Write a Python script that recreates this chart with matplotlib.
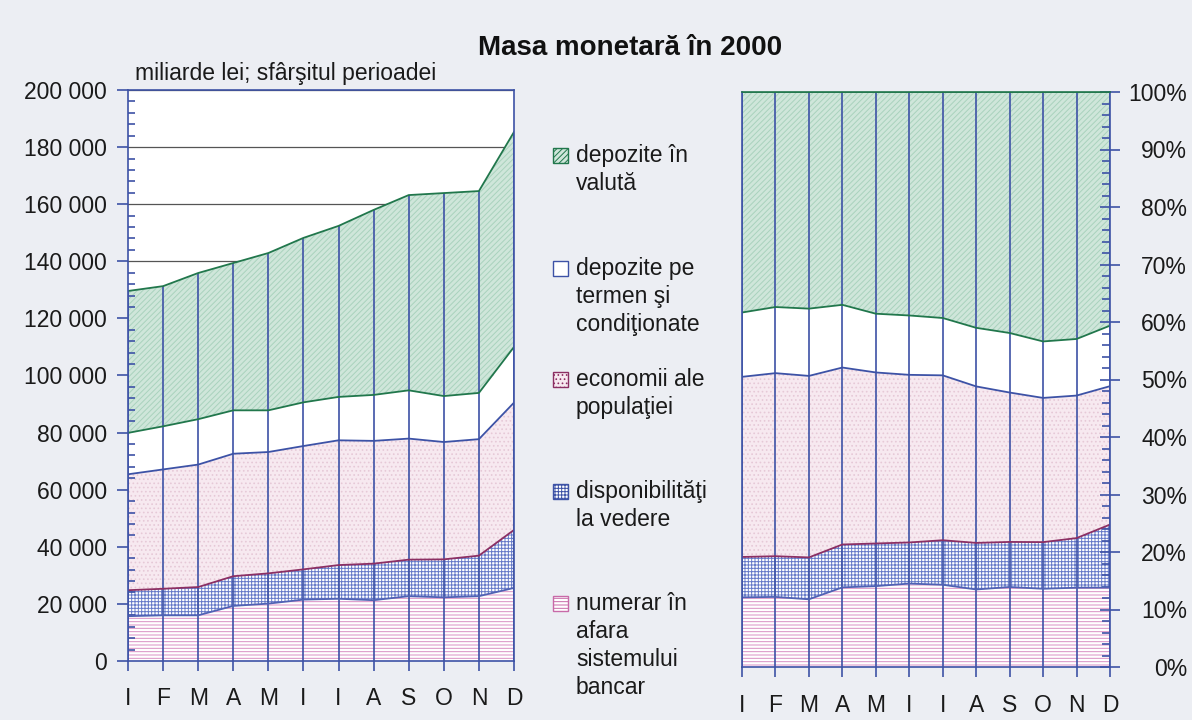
import numpy as np
import matplotlib
matplotlib.use("Agg")
from matplotlib import pyplot as plt
from matplotlib.patches import Rectangle
from matplotlib.ticker import FuncFormatter, MultipleLocator

plt.rcParams['font.family'] = ['Liberation Sans', 'DejaVu Sans']
plt.rcParams['hatch.linewidth'] = 0.7

months = ["I", "F", "M", "A", "M", "I", "I", "A", "S", "O", "N", "D"]

# cumulative tops, miliarde lei
top_numerar = [15700, 16000, 16000, 19300, 20100, 21500, 21800, 21300, 22700, 22300, 22700, 25600]
top_disponibil = [24800, 25300, 25900, 29700, 30700, 32100, 33600, 34100, 35500, 35600, 36900, 45900]
top_economii = [65400, 67100, 68800, 72600, 73200, 75300, 77300, 77100, 77900, 76700, 77700, 90500]
top_termen = [79900, 82200, 84700, 87800, 87800, 90600, 92500, 93200, 94800, 92800, 93900, 110000]
top_valuta = [129600, 131300, 135900, 139400, 142900, 148200, 152400, 158000, 163200, 163900, 164600, 185300]

legend_labels = [
    "depozite în\nvalută",
    "depozite pe\ntermen şi\ncondiţionate",
    "economii ale\npopulaţiei",
    "disponibilităţi\nla vedere",
    "numerar în\nafara\nsistemului\nbancar",
]

BG = "#eceef3"
BLUE = "#3d52a6"
GREEN_LINE = "#21774c"
MAROON = "#8c2f63"
TXT = "#1a1a1a"
FS = 16.5

# fill styles: (facecolor, hatch colour, hatch)
styles = [
    ("#cfe6da", "#a9d2bd", "//////"),   # valuta
    ("white", "white", None),           # termen
    ("#f7e9f0", "#e6c9d7", "...."),     # economii
    ("white", "#6579c8", "+++++"),      # disponibilitati
    ("white", "#d98fc4", "-----"),      # numerar
]
line_cols = [GREEN_LINE, GREEN_LINE, BLUE, MAROON, "#5062b4"]
edge_cols = [GREEN_LINE, BLUE, MAROON, BLUE, "#c86aa8"]

fig = plt.figure(figsize=(11.92, 7.2), dpi=100, facecolor=BG)
W, H = 1192, 720


def box(x0, y0, x1, y1):
    return [x0 / W, 1 - y1 / H, (x1 - x0) / W, (y1 - y0) / H]


def draw_stack(ax, tops):
    x = np.arange(len(months))
    bottoms = [np.zeros(len(months))] + [np.array(t) for t in tops[::-1][:-1]]
    layers = list(zip(tops[::-1], bottoms))  # from numerar up to valuta
    for i, (top, bot) in enumerate(layers):
        k = 4 - i
        fc, hc, hatch = styles[k]
        ax.fill_between(x, bot, top, facecolor=fc, edgecolor=hc, hatch=hatch,
                        linewidth=0, zorder=1.5)
    for i, top in enumerate(tops[::-1]):
        k = 4 - i
        ax.plot(x, top, color=line_cols[k], lw=1.3, zorder=1.8)


x = np.arange(len(months))

# ---- left panel: absolute values
ax1 = fig.add_axes(box(128, 90, 514, 661))
ax1.set_facecolor("white")
tops = [top_valuta, top_termen, top_economii, top_disponibil, top_numerar]
draw_stack(ax1, tops)
ax1.vlines(x, 0, top_valuta, color=BLUE, lw=1.2, zorder=1.7)
ax1.set_xlim(0, len(months) - 1)
ax1.set_ylim(0, 200000)
ax1.yaxis.set_major_locator(MultipleLocator(20000))
ax1.yaxis.set_minor_locator(MultipleLocator(4000))
ax1.yaxis.set_major_formatter(FuncFormatter(lambda v, p: f"{int(v):,}".replace(",", " ")))
for v in ax1.get_yticks():
    ax1.axhline(v, color="#555555", lw=0.9, zorder=1)
ax1.set_xticks(x)
ax1.set_xticklabels(months)
ax1.tick_params(axis="y", which="major", direction="out", length=8, width=1.2,
                color=BLUE, pad=7, labelsize=FS, labelcolor=TXT)
ax1.tick_params(axis="y", which="minor", direction="in", length=5, width=1.2, color=BLUE)
ax1.tick_params(axis="x", direction="out", length=7, width=1.2, color=BLUE,
                pad=12, labelsize=FS, labelcolor=TXT)
for s in ax1.spines.values():
    s.set_color(BLUE)
    s.set_linewidth(1.2)
ax1.text(7 / 386, 1 + 10 / 571, "miliarde lei; sfârşitul perioadei", transform=ax1.transAxes,
         fontsize=FS, color=TXT, ha="left", va="baseline")

# ---- right panel: structure in percent
tot = np.array(top_valuta, dtype=float)
pct = [np.array(t) / tot * 100 for t in tops]
ax2 = fig.add_axes(box(742, 92, 1110, 667))
ax2.set_facecolor("white")
draw_stack(ax2, pct)
ax2.vlines(x, 0, 100, color=BLUE, lw=1.2, zorder=1.7)
ax2.set_xlim(0, len(months) - 1)
ax2.set_ylim(0, 100)
ax2.yaxis.tick_right()
ax2.yaxis.set_major_locator(MultipleLocator(10))
ax2.yaxis.set_minor_locator(MultipleLocator(2))
ax2.yaxis.set_major_formatter(FuncFormatter(lambda v, p: f"{int(v)}%"))
ax2.set_xticks(x)
ax2.set_xticklabels(months)
ax2.tick_params(axis="y", which="major", direction="inout", length=14, width=1.2,
                color=BLUE, pad=48.5, labelsize=FS, labelcolor=TXT)
ax2.tick_params(axis="y", which="minor", direction="in", length=6, width=1.2, color=BLUE)
ax2.tick_params(axis="x", direction="out", length=7, width=1.2, color=BLUE,
                pad=12.5, labelsize=FS, labelcolor=TXT)
for lbl in ax2.get_yticklabels():
    lbl.set_ha("right")
for s in ax2.spines.values():
    s.set_color(BLUE)
    s.set_linewidth(1.2)
ax2.spines["top"].set_color(GREEN_LINE)

# ---- title and legend
fig.text(630 / W, 1 - 48 / H, "Masa monetară în 2000", fontsize=20, fontweight="bold",
         ha="center", va="center", color="#111111")

leg_y = [155, 268, 379, 491, 603]
for k, (lab, y) in enumerate(zip(legend_labels, leg_y)):
    fc, hc, hatch = styles[k]
    sq = Rectangle((553 / W, 1 - (y + 8) / H), 15 / W, 15 / H, transform=fig.transFigure,
                   facecolor=fc, edgecolor=edge_cols[k], lw=1.0, hatch=hatch)
    fig.add_artist(sq)
    fig.text(576 / W, 1 - (y - 11) / H, lab, fontsize=FS, color=TXT, ha="left", va="top",
             linespacing=1.27)

fig.savefig("out.png", dpi=100, facecolor=BG)
